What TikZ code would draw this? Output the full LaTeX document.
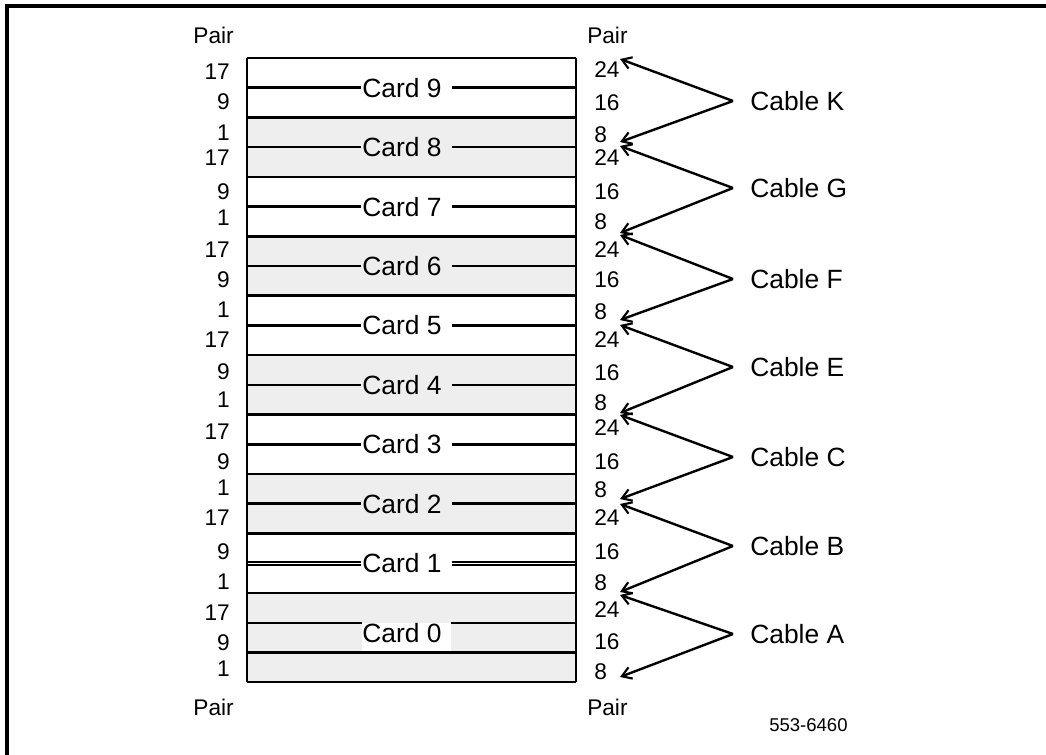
\documentclass[tikz,border=0pt]{standalone}
\usepackage{fontspec}
\setmainfont{Liberation Sans}
\usetikzlibrary{arrows.meta}
\definecolor{cardgray}{HTML}{EEEEEE}
\tikzset{
  boxline/.style={line width=1.9pt, black},
  numlbl/.style={inner sep=0pt, font=\fontsize{17pt}{19pt}\selectfont},
  cardlbl/.style={inner sep=0pt, anchor=west, font=\fontsize{19.8pt}{22pt}\selectfont},
  cablelbl/.style={inner sep=0pt, anchor=west, font=\fontsize{19.8pt}{22pt}\selectfont},
  cablearrow/.style={line width=1.8pt, -{Straight Barb[length=7pt,width=9pt,line width=1.6pt]}},
  frameline/.style={line width=2.4pt, black}
}
\begin{document}
\begin{tikzpicture}[x=0.75pt,y=-0.75pt]
\useasboundingbox (0,0) rectangle (1046,755);
% outer frame
\draw[frameline] (7,755) -- (7,6) -- (1046,6);
% fills
\def\yk#1{58+#1*29.714}
\foreach \a/\b in {2/4,6/8,10/12,14/16,18/21}{
  \fill[cardgray] (247,{\yk{\a}}) rectangle (576,{\yk{\b}});
}
% white patch under card 0 label
\fill[white] (362,623) rectangle (451,653);
% full lines
\foreach \k in {0,2,4,...,20,21}{
  \draw[boxline] (247,{\yk{\k}}) -- (576,{\yk{\k}});
}
% outer verticals
\draw[boxline] (247,58) -- (247,682);
\draw[boxline] (576,58) -- (576,682);
% mid lines with gap and card labels
\foreach \k/\c in {1/9,3/8,5/7,7/6,9/5,11/4,13/3,15/2}{
  \draw[boxline] (247,{\yk{\k}}) -- (361,{\yk{\k}});
  \draw[boxline] (452,{\yk{\k}}) -- (576,{\yk{\k}});
  \node[cardlbl] (card\c) at (362,{\yk{\k}}) {Card \c};
}
% card 1 double line
\draw[line width=1.4pt] (247,561.6) -- (361,561.6);
\draw[line width=1.4pt] (247,564.6) -- (361,564.6);
\draw[line width=1.4pt] (452,561.6) -- (576,561.6);
\draw[line width=1.4pt] (452,564.6) -- (576,564.6);
\node[cardlbl] (card1) at (362,563) {Card 1};
% card 0
\draw[boxline] (247,623) -- (362,623);
\draw[boxline] (451,623) -- (576,623);
\node[cardlbl] (card0) at (362,633) {Card 0};
% left pair numbers
\foreach \y/\t [count=\i] in {72/17,102/9,133/1,158/17,192/9,218/1,250/17,280/9,310/1,340/17,372/9,400/1,432/17,462/9,488/1,518/17,552/9,582/1,613/17,643/9,669/1}{
  \node[numlbl, anchor=east] (lp\i) at (230,\y) {\t};
}
% right pair numbers
\foreach \y/\t [count=\i] in {70/24,103/16,135/8,158/24,192/16,222/8,250/24,280/16,312/8,340/24,373/16,403/8,428/24,462/16,490/8,518/24,552/16,583/8,610/24,642/16,672/8}{
  \node[numlbl, anchor=west] (rp\i) at (594,\y) {\t};
}
% Pair headings
\node[numlbl, anchor=east] (pairTL) at (234,35) {Pair};
\node[numlbl, anchor=west] (pairTR) at (587,35) {Pair};
\node[numlbl, anchor=east] (pairBL) at (234,707) {Pair};
\node[numlbl, anchor=west] (pairBR) at (587,707) {Pair};
\node[inner sep=0pt, anchor=west, font=\fontsize{13.9pt}{16pt}\selectfont] (fignum) at (769,725) {553-6460};
% cables
\foreach \n/\y/\ta/\tb in {K/101/59/142, G/188/146/233, F/279/235/320, E/367/325/413, C/457/415/499, B/546/504/592, A/634/595/677}{
  \node[cablelbl] (cable\n) at (750,\y) {Cable \n};
  \coordinate (v\n) at (733,\y);
  \coordinate (ta\n) at (620,\ta);
  \coordinate (tb\n) at (620,\tb);
  \draw[cablearrow] (v\n) -- (ta\n);
  \draw[cablearrow] (v\n) -- (tb\n);
}
\end{tikzpicture}
\end{document}
